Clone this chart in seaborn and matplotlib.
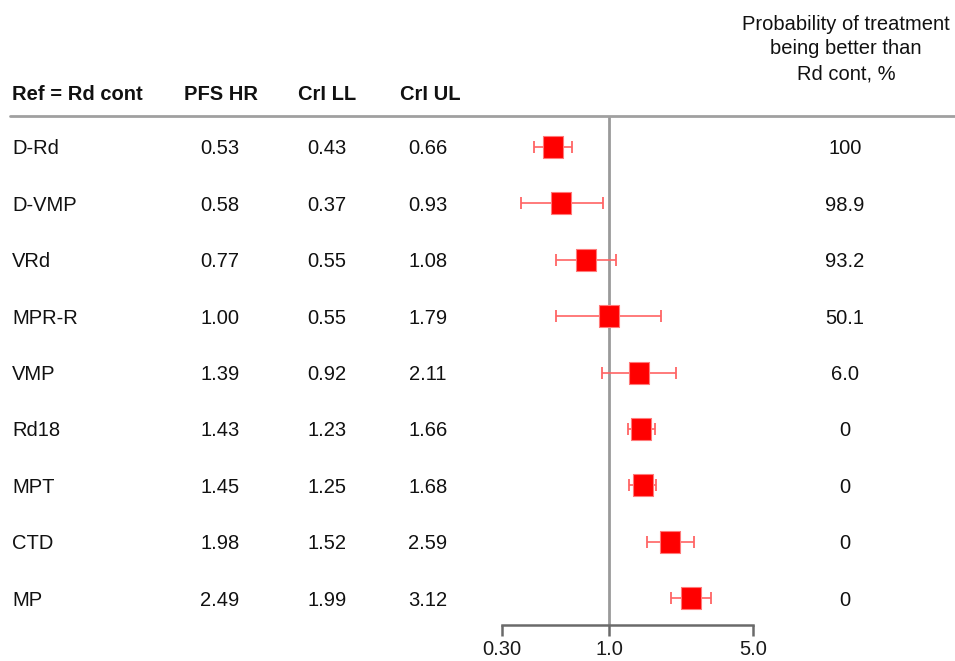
import matplotlib
matplotlib.use("Agg")
import matplotlib.pyplot as plt
import matplotlib.transforms as mtransforms
import seaborn as sns
import pandas as pd

# Network meta-analysis results versus Rd continuous
treatments = ["D-Rd", "D-VMP", "VRd", "MPR-R", "VMP", "Rd18", "MPT", "CTD", "MP"]
hr = [0.53, 0.58, 0.77, 1.00, 1.39, 1.43, 1.45, 1.98, 2.49]
crl_ll = [0.43, 0.37, 0.55, 0.55, 0.92, 1.23, 1.25, 1.52, 1.99]
crl_ul = [0.66, 0.93, 1.08, 1.79, 2.11, 1.66, 1.68, 2.59, 3.12]
prob_better = ["100", "98.9", "93.2", "50.1", "6.0", "0", "0", "0", "0"]
x_ticks = [0.30, 1.0, 5.0]
x_tick_labels = ["0.30", "1.0", "5.0"]

df = pd.DataFrame({
    "treatment": treatments,
    "hr": hr,
    "ll": crl_ll,
    "ul": crl_ul,
    "prob": prob_better,
})
df["row"] = range(len(df))

sns.set_theme(style="white")
plt.rcParams["font.family"] = ["Liberation Sans", "DejaVu Sans"]

W, H = 955, 661
fig = plt.figure(figsize=(W / 100, H / 100), dpi=100)

def fx(px):
    return px / W

def fy(py):
    return 1 - py / H

ax_left, ax_right = 502, 753
ax_top, ax_bottom = 117, 625
ax = fig.add_axes([fx(ax_left), fy(ax_bottom), fx(ax_right - ax_left), (ax_bottom - ax_top) / H])
ax.set_xscale("log")
ax.set_xlim(0.30, 5.0)
row_gap = 56.375
ax.set_ylim(8 + (ax_bottom - 598) / row_gap, -(147 - ax_top) / row_gap)

# reference line at HR = 1
ax.axvline(1.0, color="#9a9a9a", lw=2, zorder=1)

# credible intervals
ax.errorbar(df["hr"], df["row"],
            xerr=[df["hr"] - df["ll"], df["ul"] - df["hr"]],
            fmt="none", ecolor="#ff6464", elinewidth=1.2, capsize=4.4,
            capthick=1.3, zorder=2)

# point estimates: slightly tall rectangular boxes
box = [(-0.87, -1.0), (0.87, -1.0), (0.87, 1.0), (-0.87, 1.0), (-0.87, -1.0)]
sns.scatterplot(data=df, x="hr", y="row", marker=box, s=265,
                color="#ff0000", edgecolor="#ff7a7a", linewidth=0.8,
                ax=ax, zorder=3, legend=False)

ax.set_xlabel("")
ax.set_ylabel("")
ax.set_yticks([])
ax.set_xticks(x_ticks)
ax.set_xticklabels(x_tick_labels, fontsize=14.5, color="#1a1a1a")
ax.xaxis.set_minor_locator(matplotlib.ticker.NullLocator())
ax.tick_params(axis="x", which="major", direction="out", length=8, width=1.8,
               color="#6a6a6a", pad=3, bottom=True)
for side in ["top", "left", "right"]:
    ax.spines[side].set_visible(False)
ax.spines["bottom"].set_color("#6a6a6a")
ax.spines["bottom"].set_linewidth(1.8)
ax.patch.set_alpha(0)

# table columns: x in figure pixels, y in data rows
trans = mtransforms.blended_transform_factory(fig.transFigure, ax.transData)
fs = 14.5
txt = dict(transform=trans, va="center_baseline", fontsize=fs, color="#111111")
for _, r in df.iterrows():
    y = r["row"]
    ax.text(fx(12), y, r["treatment"], ha="left", **txt)
    ax.text(fx(220), y, f"{r['hr']:.2f}", ha="center", **txt)
    ax.text(fx(327), y, f"{r['ll']:.2f}", ha="center", **txt)
    ax.text(fx(428), y, f"{r['ul']:.2f}", ha="center", **txt)
    ax.text(fx(845), y, r["prob"], ha="center", **txt)

# header
hy = fy(92)
hdr = dict(va="center_baseline", fontsize=fs, fontweight="bold", color="#111111")
fig.text(fx(12), hy, "Ref = Rd cont", ha="left", **hdr)
fig.text(fx(221), hy, "PFS HR", ha="center", **hdr)
fig.text(fx(327), hy, "CrI LL", ha="center", **hdr)
fig.text(fx(430), hy, "CrI UL", ha="center", **hdr)
for py, line in zip([22, 47, 72], ["Probability of treatment", "being better than", "Rd cont, %"]):
    fig.text(fx(846), fy(py), line, ha="center", va="center_baseline", fontsize=fs, color="#111111")

# header rule
fig.add_artist(plt.Line2D([fx(10), fx(955)], [fy(116), fy(116)], color="#a0a0a0", lw=2))

fig.savefig("out.png", dpi=100)
